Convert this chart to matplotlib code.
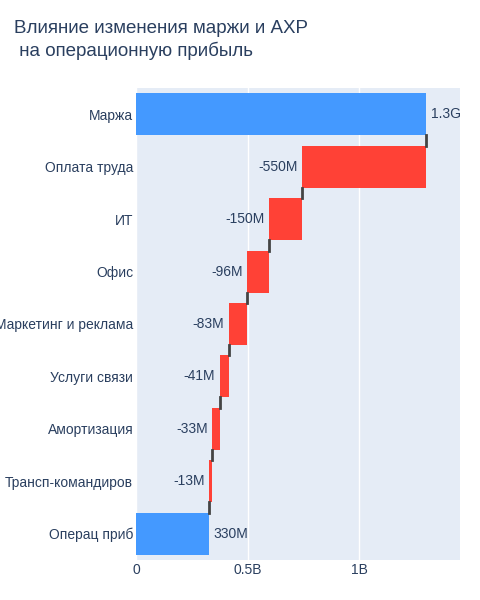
import matplotlib.pyplot as plt

plt.rcParams['font.family'] = ['Liberation Sans', 'DejaVu Sans']

# Data
categories = ['Маржа', 'Оплата труда', 'ИТ', 'Офис', 'Маркетинг и реклама',
              'Услуги связи', 'Амортизация', 'Трансп-командиров', 'Операц приб']
deltas = [1.30e9, -0.556e9, -0.150e9, -0.096e9, -0.083e9, -0.041e9, -0.033e9, -0.013e9]
labels = ['1.3G', '-550M', '-150M', '-96M', '-83M', '-41M', '-33M', '-13M', '330M']

fig = plt.figure(figsize=(4.8, 6.0), dpi=100)
ax = fig.add_axes([136/480, 1-560/600, (460-136)/480, (560-88)/600])
ax.set_facecolor('#E5ECF6')
txt = '#2a3f5f'

total = sum(deltas)
n = len(categories)
ys = list(range(n))
run = 0
ends = []
for i, c in enumerate(categories):
    if i == 0:
        left, w, col = 0, deltas[0], '#4499FF'
        run = deltas[0]
        lx = run
    elif i == n - 1:
        left, w, col = 0, total, '#4499FF'
        lx = total
    else:
        left, w, col = run + deltas[i], -deltas[i], '#FF4136'
        lx = run + deltas[i]
        run += deltas[i]
    ax.barh(i, w, left=left, color=col, height=0.8, zorder=3)
    ends.append(run if i < n - 1 else total)
    if col == '#FF4136':
        ax.text(lx - 0.02e9, i, labels[i], ha='right', va='center', color=txt, fontsize=10, zorder=4)
    else:
        ax.text(lx + 0.02e9, i, labels[i], ha='left', va='center', color=txt, fontsize=10, zorder=4)

# connectors
for i in range(n - 1):
    ax.plot([ends[i], ends[i]], [i + 0.4, i + 0.6], color='#444444', lw=2, zorder=4)

ax.set_ylim(n - 0.5, -0.5)
ax.set_xlim(0, 1.45e9)
ax.set_yticks(ys)
ax.set_yticklabels(categories, color=txt, fontsize=10)
ax.set_xticks([0, 0.5e9, 1e9])
ax.set_xticklabels(['0', '0.5B', '1B'], color=txt, fontsize=10)
ax.grid(axis='x', color='white', lw=1, zorder=0)
ax.tick_params(length=0, pad=2)
for s in ax.spines.values():
    s.set_visible(False)

fig.text(14/480, 1-40/600, 'Влияние изменения маржи и АХР\n на операционную прибыль',
         color=txt, fontsize=13.5, va='center', ha='left', linespacing=1.3)

fig.savefig('out.png', dpi=100)
